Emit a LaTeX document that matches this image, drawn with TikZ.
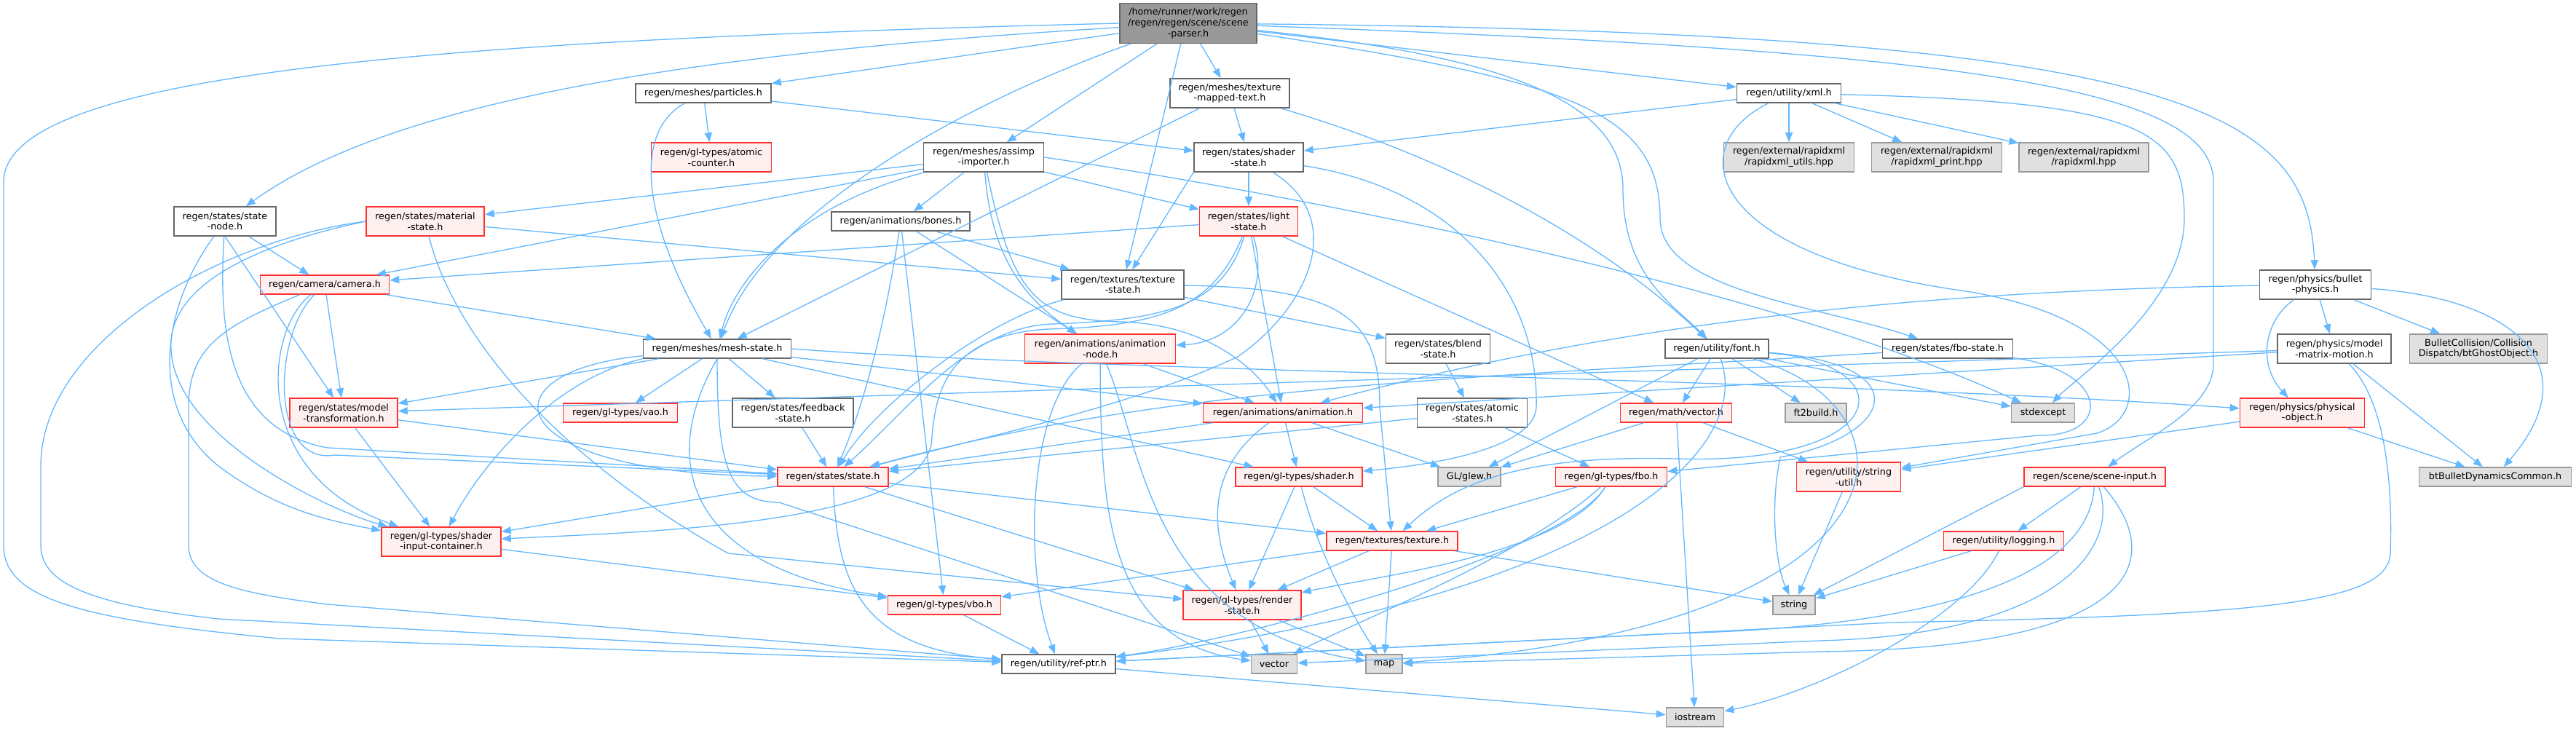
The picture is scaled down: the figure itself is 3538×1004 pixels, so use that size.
\documentclass[tikz,border=0pt]{standalone}
\usepackage{fontspec}
\setmainfont{DejaVu Sans}
\usepackage{tikz}
\usetikzlibrary{arrows.meta}
\definecolor{depblue}{HTML}{63B8FF}
\definecolor{boxgrey}{HTML}{666666}
\definecolor{extgrey}{HTML}{999999}
\definecolor{extfill}{HTML}{E0E0E0}
\definecolor{truncred}{HTML}{FF3030}
\definecolor{truncfill}{HTML}{FFF0F0}
\tikzset{every node/.style={font=\fontsize{6.37}{7.35}\selectfont},
  hfile/.style={draw=boxgrey,fill=white,line width=0.75pt,align=center,inner sep=0pt},
  hmain/.style={hfile,fill=extgrey},
  hred/.style={hfile,draw=truncred,fill=truncfill},
  hext/.style={hfile,draw=extgrey,fill=extfill}}
% one header box: style, name, centre x, centre y, width, height, text (pixels)
\newcommand{\hdr}[7]{%
  \node[#1,minimum width=#5*0.5pt,minimum height=#6*0.5pt] (#2) at (#3,#4) {#7};}

\begin{document}
\begin{tikzpicture}[x=0.5pt,y=-0.5pt,
    dep/.style={draw=depblue,line width=0.65pt,-{Triangle[length=6.5pt,width=5pt]}}]
  \path[use as bounding box,fill=white] (0,0) rectangle (3538,1004);

  % the parser and its direct includes
  \hdr{hmain}{top}{1632}{32}{188}{55}{/home/runner/work/regen\\/regen/regen/scene/scene\\-parser.h}
  \hdr{hfile}{particles}{966}{128}{186}{26}{regen/meshes/particles.h}
  \hdr{hfile}{mapped}{1689}{128}{164}{40}{regen/meshes/texture\\-mapped-text.h}
  \hdr{hfile}{xml}{2457}{128}{143}{26}{regen/utility/xml.h}
  \hdr{hfile}{assimp}{1351}{216}{165}{40}{regen/meshes/assimp\\-importer.h}
  \hdr{hred}{atomctr}{977}{216}{165}{40}{regen/gl-types/atomic\\-counter.h}
  \hdr{hfile}{shaderst}{1715}{216}{150}{40}{regen/states/shader\\-state.h}
  \hdr{hext}{rxutils}{2457}{216}{179}{40}{regen/external/rapidxml\\/rapidxml\_utils.hpp}
  \hdr{hext}{rxprint}{2660}{216}{179}{40}{regen/external/rapidxml\\/rapidxml\_print.hpp}
  \hdr{hext}{rxml}{2862}{216}{178}{40}{regen/external/rapidxml\\/rapidxml.hpp}
  \hdr{hfile}{statenode}{309}{304}{140}{40}{regen/states/state\\-node.h}
  \hdr{hred}{material}{584}{304}{162}{40}{regen/states/material\\-state.h}
  \hdr{hfile}{bones}{1237}{304}{190}{26}{regen/animations/bones.h}
  \hdr{hred}{light}{1715}{304}{135}{40}{regen/states/light\\-state.h}
  \hdr{hred}{camera}{446}{391}{177}{26}{regen/camera/camera.h}
  \hdr{hfile}{texstate}{1542}{391}{168}{40}{regen/textures/texture\\-state.h}
  \hdr{hfile}{bullet}{3180}{391}{153}{40}{regen/physics/bullet\\-physics.h}

  % middle rows
  \hdr{hfile}{meshst}{985}{479}{203}{26}{regen/meshes/mesh-state.h}
  \hdr{hred}{animnode}{1511}{479}{207}{40}{regen/animations/animation\\-node.h}
  \hdr{hfile}{blend}{1975}{479}{143}{40}{regen/states/blend\\-state.h}
  \hdr{hfile}{font}{2358}{479}{142}{26}{regen/utility/font.h}
  \hdr{hfile}{fbostate}{2675}{479}{179}{26}{regen/states/fbo-state.h}
  \hdr{hfile}{motion}{3206}{479}{156}{40}{regen/physics/model\\-matrix-motion.h}
  \hdr{hext}{ghost}{3404}{479}{189}{40}{BulletCollision/Collision\\Dispatch/btGhostObject.h}
  \hdr{hred}{modeltf}{472}{567}{148}{40}{regen/states/model\\-transformation.h}
  \hdr{hred}{vao}{852}{567}{157}{26}{regen/gl-types/vao.h}
  \hdr{hfile}{feedback}{1089}{567}{166}{40}{regen/states/feedback\\-state.h}
  \hdr{hred}{anim}{1762}{567}{219}{26}{regen/animations/animation.h}
  \hdr{hfile}{atomicst}{2022}{567}{151}{40}{regen/states/atomic\\-states.h}
  \hdr{hred}{vecmath}{2302}{567}{153}{26}{regen/math/vector.h}
  \hdr{hext}{ft2}{2494}{567}{84}{26}{ft2build.h}
  \hdr{hext}{stdexcept}{2806}{567}{87}{26}{stdexcept}
  \hdr{hred}{physobj}{3162}{567}{171}{40}{regen/physics/physical\\-object.h}
  \hdr{hred}{state}{1144}{655}{152}{26}{regen/states/state.h}
  \hdr{hred}{shader}{1784}{655}{174}{26}{regen/gl-types/shader.h}
  \hdr{hext}{glew}{2018}{655}{86}{26}{GL/glew.h}
  \hdr{hred}{fbo}{2213}{655}{153}{26}{regen/gl-types/fbo.h}
  \hdr{hred}{strutil}{2539}{655}{143}{40}{regen/utility/string\\-util.h}
  \hdr{hred}{sceneinput}{2877}{655}{194}{26}{regen/scene/scene-input.h}
  \hdr{hext}{btdyn}{3427}{655}{209}{26}{btBulletDynamicsCommon.h}

  % bottom rows
  \hdr{hred}{sic}{606}{744}{164}{40}{regen/gl-types/shader\\-input-container.h}
  \hdr{hred}{texture}{1912}{743}{180}{26}{regen/textures/texture.h}
  \hdr{hred}{logging}{2752}{743}{165}{26}{regen/utility/logging.h}
  \hdr{hred}{vbo}{1297}{831}{155}{26}{regen/gl-types/vbo.h}
  \hdr{hred}{render}{1706}{831}{162}{40}{regen/gl-types/render\\-state.h}
  \hdr{hext}{string}{2464}{831}{58}{26}{string}
  \hdr{hfile}{refptr}{1454}{912}{156}{26}{regen/utility/ref-ptr.h}
  \hdr{hext}{vecstd}{1750}{912}{63}{26}{vector}
  \hdr{hext}{map}{1901}{912}{50}{26}{map}
  \hdr{hext}{iostream}{2328}{985}{79}{26}{iostream}

  % includes of the parser
  \draw[dep] (top) -- (particles);
  \draw[dep] (top) -- (mapped);
  \draw[dep] (top) -- (assimp);
  \draw[dep] (top.250) -- (texstate);
  \draw[dep] (top) -- (xml);
  \draw[dep] (top) .. controls (1300,150) and (1050,300) .. (meshst);
  \draw[dep] (top) .. controls (1000,70) and (550,130) .. (statenode);
  \draw[dep] (top.west) .. controls (600,55) and (5,100) .. (5,250) -- (5,749)
    .. controls (5,820) and (100,850) .. (384,877) -- (refptr);
  \draw[dep] (top) .. controls (2100,80) and (2229,150) .. (2229,260)
    .. controls (2229,380) and (2300,420) .. (font);
  \draw[dep] (top) .. controls (2150,110) and (2280,150) .. (2280,300)
    .. controls (2280,400) and (2500,420) .. (fbostate);
  \draw[dep] (top) .. controls (3000,45) and (3170,150) .. (bullet);
  \draw[dep] (top) .. controls (2700,70) and (3040,120) .. (3040,250) -- (3040,500)
    .. controls (3040,560) and (2950,600) .. (sceneinput);

  % second row
  \draw[dep] (particles) -- (atomctr);
  \draw[dep] (particles) -- (shaderst);
  \draw[dep] (particles) .. controls (870,180) and (880,300) .. (meshst);
  \draw[dep] (mapped) -- (shaderst);
  \draw[dep] (mapped) -- (meshst);
  \draw[dep] (mapped) .. controls (2000,220) and (2200,330) .. (font);
  \draw[dep] (xml) -- (rxutils);
  \draw[dep] (xml) -- (rxprint);
  \draw[dep] (xml) -- (rxml);
  \draw[dep] (xml) -- (shaderst);
  \draw[dep] (xml) .. controls (2950,140) and (3000,180) .. (3000,300)
    .. controls (3000,420) and (2850,520) .. (stdexcept);
  \draw[dep] (xml) .. controls (2310,200) and (2340,350) .. (2700,400)
    .. controls (2950,440) and (2960,570) .. (2880,595) -- (strutil);

  % third row
  \draw[dep] (assimp) -- (material);
  \draw[dep] (assimp) -- (camera);
  \draw[dep] (assimp) .. controls (1100,280) and (1010,380) .. (meshst);
  \draw[dep] (assimp) -- (bones);
  \draw[dep] (assimp) .. controls (1360,330) and (1390,400) .. (animnode);
  \draw[dep] (assimp) .. controls (1390,400) and (1420,440) .. (1540,442)
    .. controls (1650,445) and (1720,500) .. (anim);
  \draw[dep] (assimp) -- (light);
  \draw[dep] (assimp.east) .. controls (1700,255) and (2400,380) .. (stdexcept);
  \draw[dep] (shaderst) -- (light);
  \draw[dep] (shaderst.south west) -- (texstate);
  \draw[dep] (shaderst) .. controls (2000,260) and (2114,400) .. (2110,560)
    .. controls (2105,620) and (1950,640) .. (shader);
  \draw[dep] (shaderst) .. controls (1850,300) and (1800,420) .. (1700,490)
    .. controls (1550,560) and (1350,600) .. (state);

  % fourth row
  \draw[dep] (statenode) -- (camera);
  \draw[dep] (statenode.south) -- (modeltf);
  \draw[dep] (statenode) .. controls (300,450) and (310,590) .. (450,615) -- (state);
  \draw[dep] (statenode) .. controls (224,420) and (200,560) .. (300,640)
    .. controls (380,700) and (450,715) .. (sic);
  \draw[dep] (material) -- (texstate);
  \draw[dep] (material.west) .. controls (300,330) and (56,470) .. (56,640) -- (56,749)
    .. controls (56,800) and (120,830) .. (300,850) -- (refptr);
  \draw[dep] (material.west) .. controls (330,340) and (230,400) .. (235,480)
    .. controls (240,600) and (450,700) .. (sic);
  \draw[dep] (material) .. controls (620,450) and (750,620) .. (1000,760) -- (render);
  \draw[dep] (bones) -- (texstate);
  \draw[dep] (bones) -- (animnode);
  \draw[dep] (bones) .. controls (1215,450) and (1185,560) .. (state);
  \draw[dep] (bones) -- (vbo);
  \draw[dep] (light) -- (camera);
  \draw[dep] (light) .. controls (1745,400) and (1700,470) .. (animnode);
  \draw[dep] (light) -- (anim);
  \draw[dep] (light) .. controls (1680,420) and (1600,440) .. (1444,445)
    .. controls (1330,450) and (1250,560) .. (state);
  \draw[dep] (light) .. controls (1665,425) and (1590,448) .. (1440,452)
    .. controls (1300,460) and (1285,540) .. (1280,600)
    .. controls (1280,720) and (900,730) .. (sic);
  \draw[dep] (light) -- (vecmath);

  % fifth row
  \draw[dep] (camera) -- (meshst);
  \draw[dep] (camera) -- (modeltf);
  \draw[dep] (camera) .. controls (365,450) and (340,650) .. (sic);
  \draw[dep] (camera) .. controls (375,460) and (370,640) .. (460,625) -- (state);
  \draw[dep] (camera) .. controls (300,450) and (259,480) .. (259,560) -- (259,749)
    .. controls (259,800) and (330,815) .. (450,830) -- (refptr);
  \draw[dep] (texstate) -- (blend);
  \draw[dep] (texstate) .. controls (1350,440) and (1200,560) .. (state);
  \draw[dep] (texstate) .. controls (1850,395) and (1895,440) .. (1895,560) -- (texture);
  \draw[dep] (bullet) .. controls (2600,400) and (2200,450) .. (anim);
  \draw[dep] (bullet) .. controls (3110,440) and (3100,500) .. (physobj);
  \draw[dep] (bullet) -- (motion);
  \draw[dep] (bullet) -- (ghost);
  \draw[dep] (bullet) .. controls (3450,410) and (3560,500) .. (btdyn);

  % mesh state and friends
  \draw[dep] (meshst) -- (modeltf);
  \draw[dep] (meshst) -- (vao);
  \draw[dep] (meshst) -- (feedback);
  \draw[dep] (meshst.south west) .. controls (760,520) and (660,640) .. (sic);
  \draw[dep] (meshst) .. controls (660,510) and (680,650) .. (state);
  \draw[dep] (meshst) -- (anim);
  \draw[dep] (meshst) -- (shader);
  \draw[dep] (meshst) .. controls (985,640) and (1000,690) .. (1070,690) -- (vecstd);
  \draw[dep] (meshst.south) .. controls (900,640) and (950,780) .. (vbo);
  \draw[dep] (meshst.east) .. controls (1500,510) and (2500,520) .. (physobj);
  \draw[dep] (animnode) -- (anim);
  \draw[dep] (animnode) .. controls (1412,560) and (1405,780) .. (refptr);
  \draw[dep] (animnode) .. controls (1512,700) and (1520,880) .. (vecstd);
  \draw[dep] (animnode) .. controls (1570,620) and (1580,860) .. (map);
  \draw[dep] (blend) -- (atomicst);

  % font and fbo state
  \draw[dep] (font) -- (vecmath);
  \draw[dep] (font) -- (ft2);
  \draw[dep] (font) -- (glew);
  \draw[dep] (font) -- (stdexcept);
  \draw[dep] (font) .. controls (2620,500) and (2600,640) .. (2300,630)
    .. controls (2100,625) and (2000,660) .. (texture);
  \draw[dep] (font) .. controls (2640,500) and (2600,600) .. (2445,628)
    .. controls (2430,700) and (2440,780) .. (string);
  \draw[dep] (font) .. controls (2650,560) and (2640,860) .. (map);
  \draw[dep] (font) .. controls (2410,620) and (2200,820) .. (refptr);
  \draw[dep] (fbostate) .. controls (2900,510) and (2900,600) .. (2800,598) -- (fbo);
  \draw[dep] (fbostate) .. controls (2000,520) and (1600,530) .. (state);

  % physics
  \draw[dep] (motion) -- (modeltf);
  \draw[dep] (motion) -- (anim);
  \draw[dep] (motion) -- (btdyn);
  \draw[dep] (motion) .. controls (3285,560) and (3285,700) .. (3283,760)
    .. controls (3280,830) and (3100,845) .. (2600,855) -- (refptr);
  \draw[dep] (physobj) -- (strutil);
  \draw[dep] (physobj) -- (btdyn);

  % states and gl types
  \draw[dep] (modeltf) -- (sic);
  \draw[dep] (modeltf) -- (state);
  \draw[dep] (feedback) -- (state);
  \draw[dep] (anim) -- (state);
  \draw[dep] (anim) -- (shader);
  \draw[dep] (anim) -- (glew);
  \draw[dep] (anim) .. controls (1660,640) and (1660,720) .. (render);
  \draw[dep] (atomicst) -- (state);
  \draw[dep] (atomicst) -- (fbo);
  \draw[dep] (vecmath) -- (glew);
  \draw[dep] (vecmath) -- (strutil);
  \draw[dep] (vecmath) -- (iostream);
  \draw[dep] (state) -- (sic);
  \draw[dep] (state) -- (texture);
  \draw[dep] (state) -- (render);
  \draw[dep] (state) .. controls (1150,800) and (1180,890) .. (refptr);
  \draw[dep] (shader) -- (render);
  \draw[dep] (shader) -- (texture);
  \draw[dep] (shader) .. controls (1810,760) and (1860,850) .. (map);
  \draw[dep] (fbo) -- (texture);
  \draw[dep] (fbo) .. controls (2150,760) and (1900,790) .. (render);
  \draw[dep] (fbo) .. controls (2100,760) and (1850,860) .. (vecstd);
  \draw[dep] (fbo) .. controls (2150,760) and (1700,880) .. (refptr);
  \draw[dep] (strutil) -- (string);

  % scene input
  \draw[dep] (sceneinput) -- (logging);
  \draw[dep] (sceneinput.south west) -- (string);
  \draw[dep] (sceneinput) .. controls (2870,780) and (2700,860) .. (2300,870) -- (refptr);
  \draw[dep] (sceneinput) .. controls (2910,740) and (2850,870) .. (2500,880) -- (vecstd);
  \draw[dep] (sceneinput) .. controls (2970,760) and (2960,890) .. (2500,895) -- (map);

  % bottom rows
  \draw[dep] (sic) -- (vbo);
  \draw[dep] (texture) -- (render);
  \draw[dep] (texture) -- (vbo);
  \draw[dep] (texture) -- (map);
  \draw[dep] (texture) -- (string);
  \draw[dep] (logging) -- (string);
  \draw[dep] (logging) .. controls (2700,850) and (2500,950) .. (iostream);
  \draw[dep] (vbo) -- (refptr);
  \draw[dep] (render) -- (vecstd);
  \draw[dep] (render) -- (map);
  \draw[dep] (refptr) -- (iostream);
\end{tikzpicture}
\end{document}
